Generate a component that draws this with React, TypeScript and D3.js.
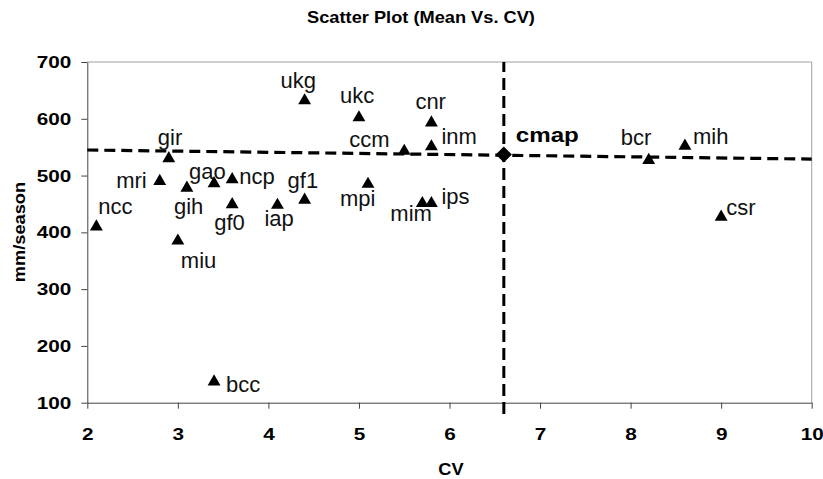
import { useEffect, useRef } from "react";
import * as d3 from "d3";

// station codes with coefficient of variation (x) and mean rainfall (y)
const names = ["ncc", "gir", "mri", "gih", "miu", "gao", "ncp", "gf0", "iap", "ukg", "gf1", "ukc", "mpi", "ccm", "cnr", "inm", "mim", "ips", "bcr", "mih", "csr", "bcc"];
const cvValues = [2.1, 2.9, 2.8, 3.1, 3.0, 3.4, 3.6, 3.6, 4.1, 4.4, 4.4, 5.0, 5.1, 5.5, 5.8, 5.8, 5.7, 5.8, 8.2, 8.6, 9.0, 3.4];
const meanValues = [410, 530, 490, 478, 385, 486, 493, 449, 448, 632, 457, 602, 485, 543, 593, 551, 451, 451, 527, 552, 427, 137];

// the composite point and its reference lines
const cmapName = "cmap";
const cmapCv = 6.6;
const cmapMean = 537;
const meanLineCv = [2, 10];
const meanLineValues = [545, 529];
const cvLineValues = [80, 700];

const xTicks = [2, 3, 4, 5, 6, 7, 8, 9, 10];
const yTicks = [100, 200, 300, 400, 500, 600, 700];

// label placement (px offset from the marker, anchor)
const labelPos: Record<string, [number, number, string]> = {
  ncc: [2, -13, "start"], gir: [-11, -14, "start"], mri: [-13, 7, "end"], gih: [-13, 26, "start"],
  miu: [3, 27, "start"], gao: [-25, -5, "start"], ncp: [7, 4, "start"], gf0: [-18, 25, "start"],
  iap: [-13, 21, "start"], ukg: [-24, -13, "start"], gf1: [-17, -12, "start"], ukc: [-19, -15, "start"],
  mpi: [-28, 22, "start"], ccm: [-55, -4, "start"], cnr: [-16, -14, "start"], inm: [10, -3, "start"],
  mim: [-32, 18, "start"], ips: [10, 1, "start"], bcr: [-28, -15, "start"], mih: [8, -2, "start"],
  csr: [5, -2, "start"], bcc: [12, 10, "start"], cmap: [12, -13, "start"],
};

const FONT = "'Liberation Sans', Arial, sans-serif";

const App = () => {
  const svgRef = useRef<SVGSVGElement>(null);
  useEffect(() => {
    const w = 823;
    const h = 479;
    const svg = d3.select(svgRef.current).attr("width", w).attr("height", h);
    svg.selectAll("*").remove();

    const x = d3.scaleLinear().domain([2, 10]).range([87.3, 811.7]);
    const y = d3.scaleLinear().domain([100, 700]).range([402.7, 62]);

    // plot frame (top / right)
    svg.append("path")
      .attr("d", `M${x(2)},${y(700)}H${x(10)}V${y(100)}`)
      .attr("fill", "none")
      .attr("stroke", "#a0a0a0")
      .attr("stroke-width", 1);

    const boldText = (sel: any, size: number) =>
      sel.attr("font-family", FONT).attr("font-weight", "bold").attr("font-size", size).attr("fill", "#000");

    const xAxis = d3.axisBottom(x).tickValues(xTicks).tickSize(6).tickSizeOuter(0).tickPadding(19).tickFormat(d3.format("d"));
    const gx = svg.append("g").attr("transform", `translate(0,${y(100)})`).call(xAxis);
    gx.selectAll("path,line").attr("stroke", "#444");
    boldText(gx.selectAll("text"), 17).attr("transform", "scale(1.22,1)")
      .attr("x", (d: any) => 0);
    gx.selectAll(".tick text").attr("transform", "scale(1.22,1)");

    const yAxis = d3.axisLeft(y).tickValues(yTicks).tickSize(6).tickSizeOuter(0).tickPadding(10).tickFormat(d3.format("d"));
    const gy = svg.append("g").attr("transform", `translate(${x(2)},0)`).call(yAxis);
    gy.selectAll("path,line").attr("stroke", "#444");
    boldText(gy.selectAll("text"), 17).attr("transform", "translate(-16,0) scale(1.22,1) translate(16,0)");

    // reference lines
    const line = d3.line<[number, number]>().x((d) => x(d[0])).y((d) => y(d[1]));
    svg.append("path")
      .attr("d", line([[meanLineCv[0], meanLineValues[0]], [meanLineCv[1], meanLineValues[1]]]))
      .attr("stroke", "#000").attr("stroke-width", 3.2).attr("stroke-dasharray", "11,6").attr("fill", "none");
    svg.append("path")
      .attr("d", line([[cmapCv, cvLineValues[0]], [cmapCv, cvLineValues[1]]]))
      .attr("stroke", "#000").attr("stroke-width", 3).attr("stroke-dasharray", "12,6").attr("fill", "none");

    // station markers
    const tri = d3.symbol(d3.symbolTriangle, 72);
    svg.append("g").selectAll("path")
      .data(names)
      .join("path")
      .attr("d", tri)
      .attr("transform", (d, i) => `translate(${x(cvValues[i])},${y(meanValues[i])})`)
      .attr("fill", "#000");

    svg.append("g").selectAll("text")
      .data(names)
      .join("text")
      .attr("x", (d, i) => x(cvValues[i]) + labelPos[d][0])
      .attr("y", (d, i) => y(meanValues[i]) + labelPos[d][1])
      .attr("text-anchor", (d) => labelPos[d][2])
      .attr("font-family", FONT)
      .attr("font-size", 22)
      .attr("fill", "#111")
      .text((d) => d);

    // composite point
    svg.append("path")
      .attr("d", d3.symbol(d3.symbolSquare, 130)())
      .attr("transform", `translate(${x(cmapCv)},${y(cmapMean)}) rotate(45)`)
      .attr("fill", "#000");
    const cx = x(cmapCv) + labelPos[cmapName][0];
    boldText(svg.append("text"), 21)
      .attr("transform", `translate(${cx},${y(cmapMean) + labelPos[cmapName][1]}) scale(1.15,1)`)
      .text(cmapName);

    // titles
    boldText(svg.append("text"), 16)
      .attr("text-anchor", "middle")
      .attr("transform", "translate(421,23) scale(1.14,1)")
      .text("Scatter Plot (Mean Vs. CV)");
    boldText(svg.append("text"), 16)
      .attr("text-anchor", "middle")
      .attr("transform", "translate(451,475) scale(1.14,1)")
      .text("CV");
    boldText(svg.append("text"), 16)
      .attr("text-anchor", "middle")
      .attr("transform", "translate(25,232) rotate(-90) scale(1.14,1)")
      .text("mm/season");
  }, []);

  return (
    <div style={{ position: "absolute", left: 0, top: 0 }}>
      <svg ref={svgRef} style={{ display: "block" }}></svg>
    </div>
  );
};

export default App;
